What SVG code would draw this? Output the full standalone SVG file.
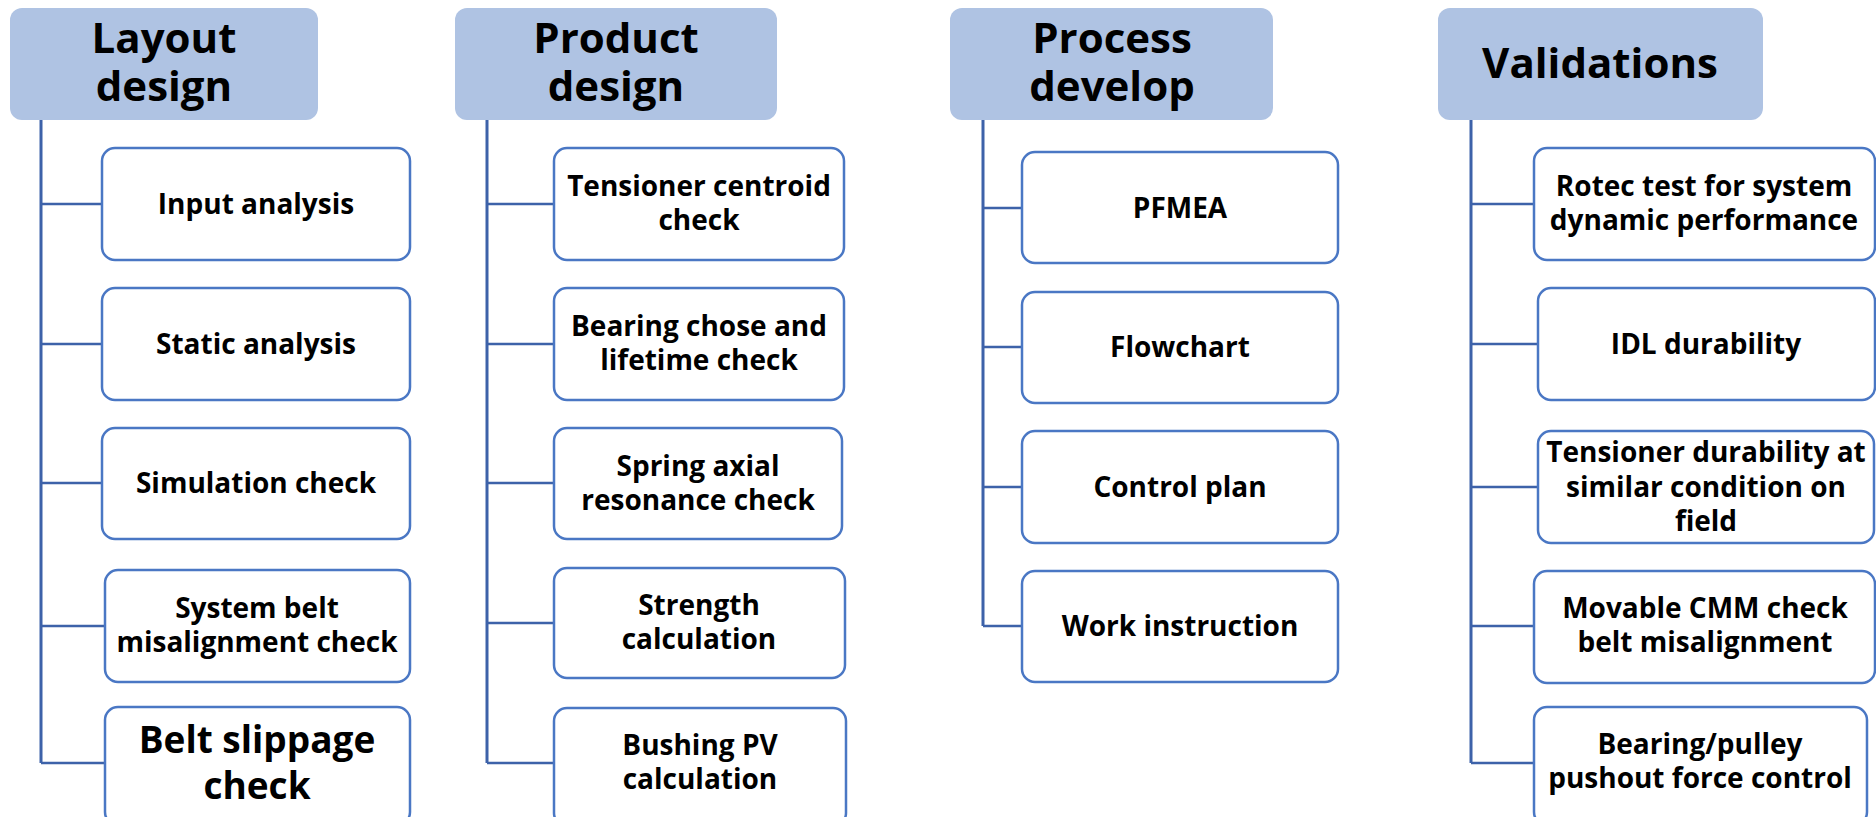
<svg xmlns="http://www.w3.org/2000/svg" width="1876" height="817" viewBox="0 0 1876 817">
  <style>
    .hdr { fill: #afc3e3; }
    .box { fill: #ffffff; stroke: #4a77c4; stroke-width: 2.5; }
    .trunk { fill: none; stroke: #3d62a9; stroke-width: 3; }
    .branch { fill: none; stroke: #3d62a9; stroke-width: 2.5; }
    text { font-family: "Open Sans", "Noto Sans", "Liberation Sans", sans-serif; font-weight: 700; fill: #000000; text-anchor: middle; }
    .h { font-size: 42px; }
    .t { font-size: 28px; }
    .big { font-size: 37px; }
  </style>
  <rect width="1876" height="817" fill="#ffffff"/>

  <!-- connectors: vertical trunk per column and horizontal branches -->
  <g id="connectors">
    <path class="trunk" d="M41 120 V763"/>
    <path class="branch" d="M41 204 H102 M41 344 H102 M41 483 H102 M41 626 H105 M41 763 H105"/>
    <path class="trunk" d="M487 120 V763"/>
    <path class="branch" d="M487 204 H554 M487 344 H554 M487 483 H554 M487 623 H554 M487 763 H554"/>
    <path class="trunk" d="M983 120 V626"/>
    <path class="branch" d="M983 208 H1022 M983 347 H1022 M983 487 H1022 M983 626 H1022"/>
    <path class="trunk" d="M1471 120 V763"/>
    <path class="branch" d="M1471 204 H1534 M1471 344 H1538 M1471 487 H1538 M1471 626 H1534 M1471 763 H1534"/>
  </g>

  <!-- Layout design column -->
  <g id="layout-design">
    <rect class="hdr" x="10" y="8" width="308" height="112" rx="12"/>
    <text class="h" x="164" y="53">Layout</text>
    <text class="h" x="164" y="101">design</text>
  </g>
  <g id="input-analysis">
    <rect class="box" x="102" y="148" width="308" height="112" rx="13"/>
    <text class="t" x="256" y="214">Input analysis</text>
  </g>
  <g id="static-analysis">
    <rect class="box" x="102" y="288" width="308" height="112" rx="13"/>
    <text class="t" x="256" y="354">Static analysis</text>
  </g>
  <g id="simulation-check">
    <rect class="box" x="102" y="428" width="308" height="111" rx="13"/>
    <text class="t" x="256" y="493">Simulation check</text>
  </g>
  <g id="system-belt-misalignment">
    <rect class="box" x="105" y="570" width="305" height="112" rx="13"/>
    <text class="t" x="257" y="618">System belt</text>
    <text class="t" x="257" y="652">misalignment check</text>
  </g>
  <g id="belt-slippage">
    <rect class="box" x="105" y="707" width="305" height="118" rx="13"/>
    <text class="big" x="257" y="753">Belt slippage</text>
    <text class="big" x="257" y="799">check</text>
  </g>

  <!-- Product design column -->
  <g id="product-design">
    <rect class="hdr" x="455" y="8" width="322" height="112" rx="12"/>
    <text class="h" x="616" y="53">Product</text>
    <text class="h" x="616" y="101">design</text>
  </g>
  <g id="tensioner-centroid">
    <rect class="box" x="554" y="148" width="290" height="112" rx="13"/>
    <text class="t" x="699" y="196">Tensioner centroid</text>
    <text class="t" x="699" y="230">check</text>
  </g>
  <g id="bearing-lifetime">
    <rect class="box" x="554" y="288" width="290" height="112" rx="13"/>
    <text class="t" x="699" y="336">Bearing chose and</text>
    <text class="t" x="699" y="370">lifetime check</text>
  </g>
  <g id="spring-resonance">
    <rect class="box" x="554" y="428" width="288" height="111" rx="13"/>
    <text class="t" x="698" y="476">Spring axial</text>
    <text class="t" x="698" y="510">resonance check</text>
  </g>
  <g id="strength-calculation">
    <rect class="box" x="554" y="568" width="291" height="110" rx="13"/>
    <text class="t" x="699" y="615">Strength</text>
    <text class="t" x="699" y="649">calculation</text>
  </g>
  <g id="bushing-pv">
    <rect class="box" x="554" y="708" width="292" height="118" rx="13"/>
    <text class="t" x="700" y="755">Bushing PV</text>
    <text class="t" x="700" y="789">calculation</text>
  </g>

  <!-- Process develop column -->
  <g id="process-develop">
    <rect class="hdr" x="950" y="8" width="323" height="112" rx="12"/>
    <text class="h" x="1112" y="53">Process</text>
    <text class="h" x="1112" y="101">develop</text>
  </g>
  <g id="pfmea">
    <rect class="box" x="1022" y="152" width="316" height="111" rx="13"/>
    <text class="t" x="1180" y="218">PFMEA</text>
  </g>
  <g id="flowchart">
    <rect class="box" x="1022" y="292" width="316" height="111" rx="13"/>
    <text class="t" x="1180" y="357">Flowchart</text>
  </g>
  <g id="control-plan">
    <rect class="box" x="1022" y="431" width="316" height="112" rx="13"/>
    <text class="t" x="1180" y="497">Control plan</text>
  </g>
  <g id="work-instruction">
    <rect class="box" x="1022" y="571" width="316" height="111" rx="13"/>
    <text class="t" x="1180" y="636">Work instruction</text>
  </g>

  <!-- Validations column -->
  <g id="validations">
    <rect class="hdr" x="1438" y="8" width="325" height="112" rx="12"/>
    <text class="h" x="1600" y="78">Validations</text>
  </g>
  <g id="rotec-test">
    <rect class="box" x="1534" y="148" width="341" height="112" rx="13"/>
    <text class="t" x="1704" y="196">Rotec test for system</text>
    <text class="t" x="1704" y="230">dynamic performance</text>
  </g>
  <g id="idl-durability">
    <rect class="box" x="1538" y="288" width="337" height="112" rx="13"/>
    <text class="t" x="1706" y="354">IDL durability</text>
  </g>
  <g id="tensioner-durability">
    <rect class="box" x="1538" y="431" width="336" height="112" rx="13"/>
    <text class="t" x="1706" y="462">Tensioner durability at</text>
    <text class="t" x="1706" y="497">similar condition on</text>
    <text class="t" x="1706" y="531">field</text>
  </g>
  <g id="movable-cmm">
    <rect class="box" x="1534" y="571" width="341" height="112" rx="13"/>
    <text class="t" x="1705" y="618">Movable CMM check</text>
    <text class="t" x="1705" y="652">belt misalignment</text>
  </g>
  <g id="pushout-force">
    <rect class="box" x="1534" y="707" width="333" height="118" rx="13"/>
    <text class="t" x="1700" y="754">Bearing/pulley</text>
    <text class="t" x="1700" y="788">pushout force control</text>
  </g>
</svg>
